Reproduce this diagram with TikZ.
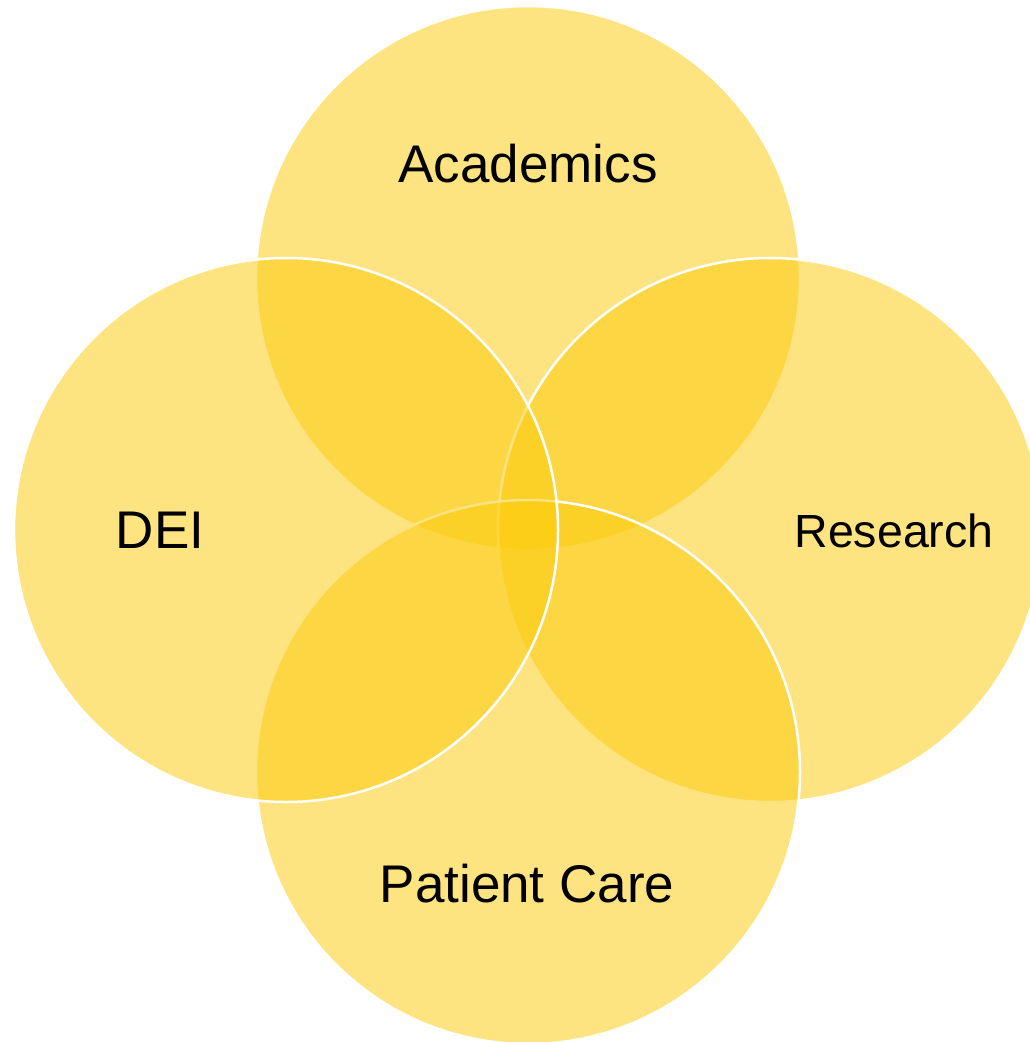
\documentclass[tikz,border=0pt]{standalone}
\usepackage{fontspec}
\setmainfont{Liberation Sans}
\definecolor{vennfill}{RGB}{252,203,12}
\begin{document}
\begin{tikzpicture}[x=1pt,y=-1pt,
  venn/.style={circle, minimum size=544pt, inner sep=0pt, fill=vennfill, fill opacity=0.52, draw=white, draw opacity=1, line width=2.5pt},
  lbl/.style={anchor=base, inner sep=0pt, text=black, font=\fontsize{53}{60}\selectfont},
  lblsmall/.style={anchor=base, inner sep=0pt, text=black, font=\fontsize{46.5}{52}\selectfont}]
\useasboundingbox (0,0) rectangle (1030,1042);
\node[venn] (top) at (528,278) {};
\node[venn] (right) at (770,530) {};
\node[venn] (bottom) at (528,772) {};
\node[venn] (left) at (286,530) {};
\node[lbl] (tAcad) at (528,182) {Academics};
\node[lbl] (tDEI) at (160,548) {DEI};
\node[lblsmall] (tRes) at (894,547) {Research};
\node[lbl] (tPat) at (527,902) {Patient Care};
\end{tikzpicture}
\end{document}
